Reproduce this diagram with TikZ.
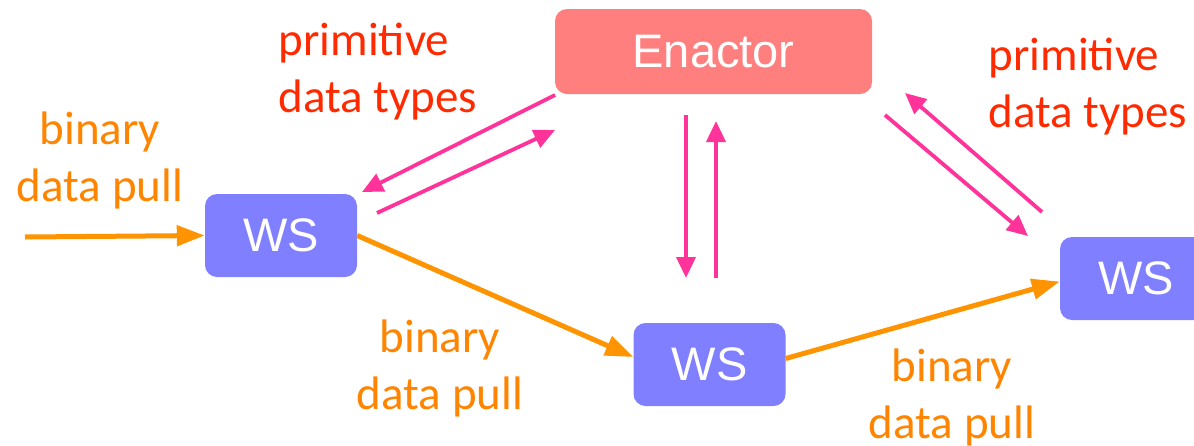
\documentclass[tikz,border=0pt]{standalone}
\usepackage{fontspec}
\setmainfont{Carlito}
\newfontfamily\boxfont{Liberation Sans}
\usetikzlibrary{arrows.meta}
\definecolor{enactorred}{HTML}{FF7F7F}
\definecolor{wsblue}{HTML}{7F7FFF}
\definecolor{callpink}{HTML}{FF3399}
\definecolor{pullorange}{HTML}{FF9400}
\definecolor{pulltext}{HTML}{FF8500}
\definecolor{typered}{HTML}{FF2A00}
\begin{document}
\begin{tikzpicture}[
    x=1pt, y=-1pt,
    every node/.style={align=center},
    service/.style={fill=wsblue, rounded corners=12pt, minimum width=152pt, minimum height=83pt, text=white, font=\boxfont\fontsize{47}{56}\selectfont},
    enactor box/.style={service, fill=enactorred, minimum width=317pt, minimum height=85pt},
    call arrow/.style={draw=callpink, line width=3.8pt, -{Triangle[length=21pt,width=19pt]}},
    pull arrow/.style={draw=pullorange, line width=5pt, -{Triangle[length=28pt,width=20pt]}},
    type label/.style={text=typered, align=left, font=\fontsize{47}{57}\selectfont},
    pull label/.style={text=pulltext, font=\fontsize{47}{57}\selectfont},
    ]
\clip (0,0) rectangle (1194,445);
\node[enactor box] (enactor) at (713.5,51.5) {Enactor};
\node[service] (ws1) at (281,235.5) {WS};
\node[service] (ws2) at (709.5,364.5) {WS};
\node[service] (ws3) at (1136,278.5) {WS};
\node[type label] (typesL) at (378,72) {primitive\\data types};
\node[type label] (typesR) at (1088,87) {primitive\\data types};
\node[pull label] (pullA) at (100,160) {binary\\data pull};
\node[pull label] (pullB) at (440,368) {binary\\data pull};
\node[pull label] (pullC) at (952,397) {binary\\data pull};
\coordinate (in) at (25,237);
\coordinate (eL1) at (555,95);
\coordinate (wL1) at (362,192);
\coordinate (wL2) at (377,213);
\coordinate (eL2) at (555,130);
\coordinate (eM1) at (686,115);
\coordinate (wM1) at (686,278);
\coordinate (wM2) at (716,278);
\coordinate (eM2) at (716,121);
\coordinate (wR1) at (1042,212);
\coordinate (eR1) at (905,93);
\coordinate (eR2) at (885,115);
\coordinate (wR2) at (1028,236);
\draw[call arrow] (eL1) -- (wL1);
\draw[call arrow] (wL2) -- (eL2);
\draw[call arrow] (eM1) -- (wM1);
\draw[call arrow] (wM2) -- (eM2);
\draw[call arrow] (wR1) -- (eR1);
\draw[call arrow] (eR2) -- (wR2);
\draw[pull arrow] (in) -- (ws1.west);
\draw[pull arrow] (ws1.east) -- ([yshift=7.5pt]ws2.west);
\draw[pull arrow] ([yshift=6pt]ws2.east) -- ([yshift=-3pt]ws3.west);
\end{tikzpicture}
\end{document}
